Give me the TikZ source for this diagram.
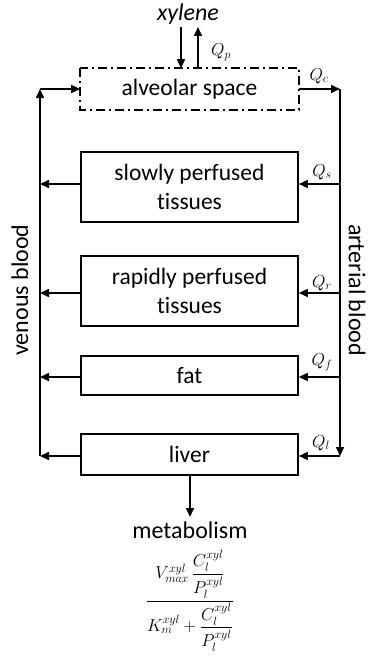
\documentclass[tikz,border=0pt]{standalone}
\usepackage{amsmath}
\usepackage{fontspec}
\setmainfont{Carlito}[Ligatures={NoCommon}]
\usetikzlibrary{arrows.meta}
\begin{document}
\begin{tikzpicture}[x=1pt,y=-1pt,
  lw/.style={line width=1.6pt},
  arr/.style={lw,-{Triangle[length=9pt,width=8pt]}},
  box/.style={draw,lw,minimum width=217pt,inner sep=0pt,font=\fontsize{23.5}{29}\selectfont,align=center},
  qlab/.style={font=\fontsize{17}{20}\selectfont},
  side/.style={font=\fontsize{24}{28}\selectfont}]
\useasboundingbox (0,0) rectangle (368,661);
% boxes
\node[box,draw=none,minimum height=40pt] (alv) at (189.5,89) {alveolar space};
\draw[lw,dash pattern=on 9pt off 4pt on 2pt off 4pt] (alv.north west) rectangle (alv.south east);
\node[box,minimum height=70pt] (slow) at (189.5,187) {slowly perfused\\tissues};
\node[box,minimum height=70pt] (rapid) at (189.5,291) {rapidly perfused\\tissues};
\node[box,minimum height=39pt] (fat) at (189.5,375.5) {fat};
\node[box,minimum height=41pt] (liver) at (189.5,454.5) {liver};
% coordinates
\coordinate (R0) at (340,89);
\coordinate (Rs) at (340,184);
\coordinate (Rr) at (340,293);
\coordinate (Rf) at (340,377);
\coordinate (Rl) at (340,456);
\coordinate (L0) at (40,89);
\coordinate (Ls) at (40,184);
\coordinate (Lr) at (40,293);
\coordinate (Lf) at (40,377);
\coordinate (Ll) at (40,456);
% xylene
\node[font=\fontsize{24}{28}\selectfont\itshape] (xyl) at (188,14) {xylene};
\coordinate (xin) at (181,27);
\coordinate (xout) at (198,27);
\draw[arr] (xin) -- (xin |- alv.north);
\draw[arr] (xout |- alv.north) -- (xout);
\node[qlab] (qp) at (221,52) {$Q_p$};
% arterial
\draw[arr] (alv.east |- R0) -- (R0);
\node[qlab] (qc) at (319,76) {$Q_c$};
\draw[arr] (R0) -- (Rl);
\draw[arr] (Rs) -- (slow.east |- Rs);
\draw[arr] (Rr) -- (rapid.east |- Rr);
\draw[arr] (Rf) -- (fat.east |- Rf);
\draw[arr] (Rl) -- (liver.east |- Rl);
\node[qlab] (qs) at (322,172) {$Q_s$};
\node[qlab] (qr) at (322,283) {$Q_r$};
\node[qlab] (qf) at (322,362) {$Q_f$};
\node[qlab] (ql) at (321,443) {$Q_l$};
% venous
\draw[arr] (slow.west |- Ls) -- (Ls);
\draw[arr] (rapid.west |- Lr) -- (Lr);
\draw[arr] (fat.west |- Lf) -- (Lf);
\draw[arr] (liver.west |- Ll) -- (Ll);
\draw[arr] (Ll) -- (L0);
\draw[arr] (L0) -- (alv.west |- L0);
% side labels
\node[side,rotate=90] (ven) at (20,290) {venous blood};
\node[side,rotate=-90] (art) at (357,290) {arterial blood};
% metabolism
\coordinate (met) at (190,517);
\draw[arr] (liver.south -| met) -- (met);
\node[font=\fontsize{24}{28}\selectfont,inner sep=0pt] (metab) at (190,530) {metabolism};
\node[font=\fontsize{17.5}{20}\selectfont,inner sep=0pt] (frac) at (190,601) {$\dfrac{V^{xyl}_{max}\,\dfrac{C^{xyl}_l}{P^{xyl}_l}}{K^{xyl}_m+\dfrac{C^{xyl}_l}{P^{xyl}_l}}$};
\end{tikzpicture}
\end{document}
